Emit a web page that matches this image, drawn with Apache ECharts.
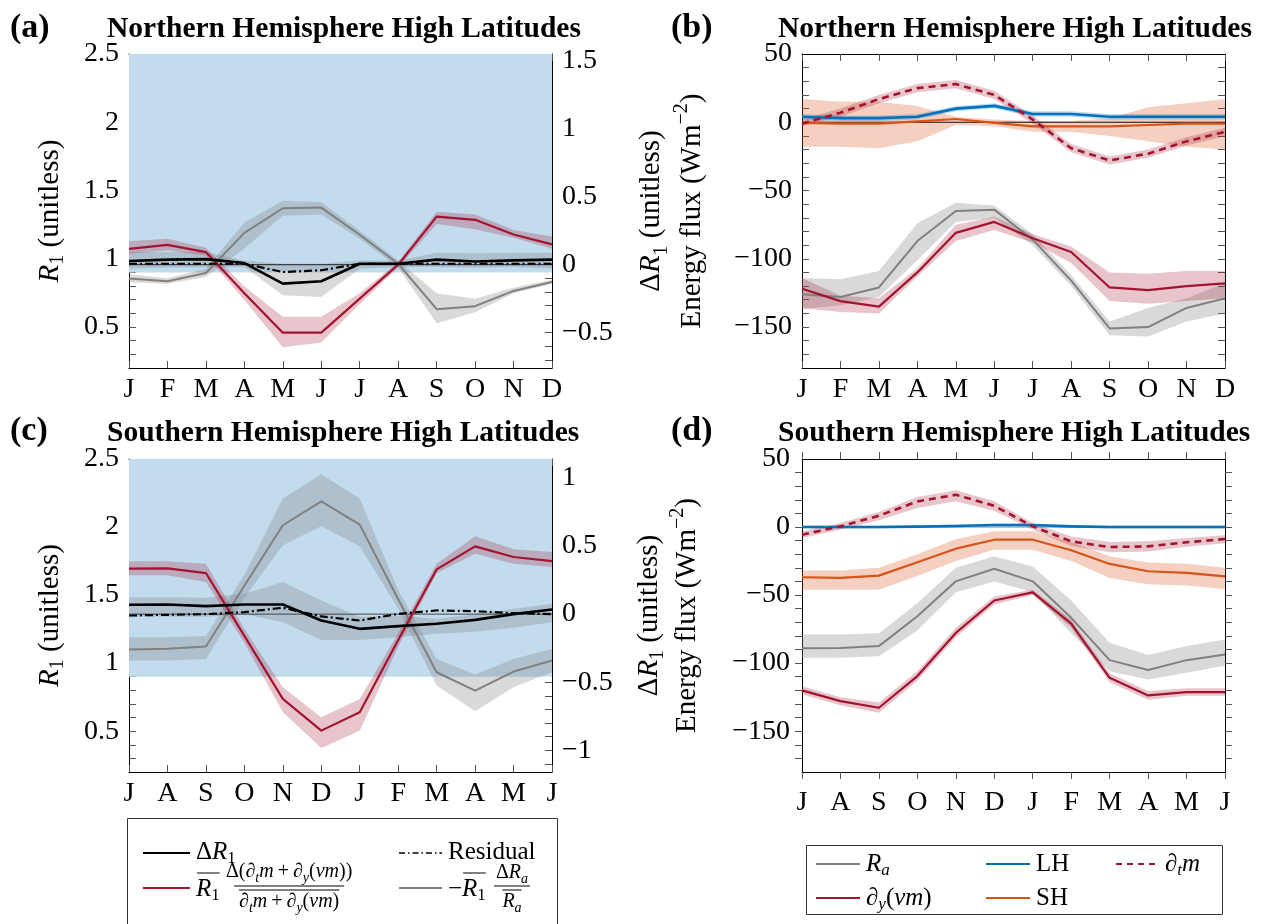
<!DOCTYPE html>
<html>
<head>
<meta charset="utf-8">
<script src="https://cdn.jsdelivr.net/npm/echarts@6/dist/echarts.min.js"></script>
<style>
html, body { margin: 0; padding: 0; background: #fff; }
#chart { width: 1262px; height: 924px; }
</style>
</head>
<body>
<div id="chart"></div>
<script>
// ---------- categories ----------
const monthsNH = ['J', 'F', 'M', 'A', 'M', 'J', 'J', 'A', 'S', 'O', 'N', 'D'];
const monthsSH = ['J', 'A', 'S', 'O', 'N', 'D', 'J', 'F', 'M', 'A', 'M', 'J'];

// ---------- tick values ----------
const r1Labels = [0.5, 1, 1.5, 2, 2.5];
const r1Ticks = [0.3, 0.4, 0.5, 0.6, 0.7, 0.8, 0.9, 1, 1.1, 1.2, 1.3, 1.4, 1.5, 1.6, 1.7, 1.8, 1.9, 2, 2.1, 2.2, 2.3, 2.4];
const dR1LabelsNH = [-0.5, 0, 0.5, 1, 1.5];
const dR1TicksNH = [-0.7, -0.6, -0.5, -0.4, -0.3, -0.2, -0.1, 0, 0.1, 0.2, 0.3, 0.4, 0.5, 0.6, 0.7, 0.8, 0.9, 1, 1.1, 1.2, 1.3, 1.4, 1.5];
const dR1LabelsSH = [-1, -0.5, 0, 0.5, 1];
const dR1TicksSH = [-1.1, -1, -0.9, -0.8, -0.7, -0.6, -0.5, -0.4, -0.3, -0.2, -0.1, 0, 0.1, 0.2, 0.3, 0.4, 0.5, 0.6, 0.7, 0.8, 0.9, 1, 1.1];
const fluxLabels = [-150, -100, -50, 0, 50];
const fluxTicks = [-170, -160, -150, -140, -130, -120, -110, -100, -90, -80, -70, -60, -50, -40, -30, -20, -10, 0, 10, 20, 30, 40];

// R1 range shaded as the energy-balance regime
const regimeR1 = [0.9, 2.5];

// ---------- (a) NH decomposition of Delta R1 ----------
const aDeltaR1   = [0.027, 0.037, 0.041, 0.012, -0.139, -0.122, 0.007, 0.007, 0.037, 0.024, 0.032, 0.037];
const aDeltaR1Lo = [-0.03, -0.02, -0.02, -0.017, -0.224, -0.237, -0.03, -0.017, -0.017, -0.02, -0.017, -0.03];
const aDeltaR1Hi = [0.093, 0.093, 0.093, 0.03, 0.007, 0.007, 0.03, 0.03, 0.088, 0.085, 0.088, 0.088];
const aResidual  = [0.007, 0.007, 0.007, 0.007, -0.054, -0.041, 0.007, 0.007, 0.007, 0.007, 0.007, 0.007];
const aFlux      = [0.117, 0.146, 0.093, -0.21, -0.5, -0.5, -0.25, 0.0, 0.354, 0.33, 0.222, 0.149];
const aFluxLo    = [0.08, 0.105, 0.068, -0.26, -0.607, -0.573, -0.29, -0.02, 0.30, 0.26, 0.198, 0.117];
const aFluxHi    = [0.173, 0.19, 0.124, -0.16, -0.383, -0.383, -0.21, 0.02, 0.39, 0.37, 0.256, 0.207];
const aRa        = [-0.102, -0.122, -0.061, 0.234, 0.415, 0.42, 0.22, 0.007, -0.327, -0.305, -0.193, -0.127];
const aRaLo      = [-0.13, -0.14, -0.09, 0.12, 0.36, 0.37, 0.19, -0.02, -0.43, -0.35, -0.21, -0.14];
const aRaHi      = [-0.07, -0.10, -0.03, 0.31, 0.47, 0.46, 0.25, 0.03, -0.21, -0.25, -0.17, -0.11];

// ---------- (b) NH energy fluxes (W m-2) ----------
const bRa    = [-126, -128, -121, -87, -65, -64, -86, -116, -151, -150, -136, -129];
const bRaLo  = [-137, -134, -128, -101, -73, -70, -90, -120, -156, -157, -146, -140];
const bRaHi  = [-114, -115, -109, -74, -59, -61, -82, -112, -146, -136, -129, -118];
const bDy    = [-122, -131, -135, -110, -81, -73, -85, -95, -121, -123, -120, -118];
const bDyLo  = [-136, -139, -140, -113, -87, -79, -88, -103, -131, -133, -131, -129];
const bDyHi  = [-114, -127, -129, -107, -75, -69, -82, -91, -110, -111, -109, -109];
const bDtm   = [-1, 7, 17, 25, 28, 20, 2, -19, -28, -23, -14, -7];
const bDtmLo = [-3, 4, 14, 22, 25, 17, -1, -22, -31, -26, -17, -10];
const bDtmHi = [2, 10, 20, 28, 31, 23, 5, -16, -25, -20, -11, -4];
const bLH    = [4, 3, 3, 4, 10, 12, 6, 6, 4, 4, 4, 4];
const bLHLo  = [2, 1, 1, 2, 8, 10, 4, 4, 2, 2, 2, 2];
const bLHHi  = [6, 5, 5, 6, 12, 14, 8, 8, 6, 6, 6, 6];
const bSH    = [-0.5, -1, -1, 0.7, 2.4, -0.5, -3, -3, -3, -2, -1, -1];
const bSHLo  = [-18, -18, -19, -14, -2, -3, -7, -7, -10, -14, -18, -20];
const bSHHi  = [17, 15, 15, 12, 4, 2, 1, 1, 3, 11, 14, 17];

// ---------- (c) SH decomposition of Delta R1 ----------
const cDeltaR1   = [0.069, 0.071, 0.059, 0.071, 0.071, -0.047, -0.108, -0.088, -0.071, -0.042, 0.0, 0.034];
const cDeltaR1Lo = [-0.02, -0.02, -0.02, 0.0, -0.06, -0.19, -0.19, -0.17, -0.145, -0.13, -0.1, -0.06];
const cDeltaR1Hi = [0.125, 0.125, 0.12, 0.15, 0.236, 0.1, -0.02, -0.01, -0.034, 0.0, 0.04, 0.076];
const cResidual  = [-0.01, -0.005, 0.0, 0.015, 0.047, -0.017, -0.047, 0.002, 0.027, 0.022, 0.007, 0.0];
const cFlux      = [0.334, 0.336, 0.302, -0.16, -0.623, -0.856, -0.721, -0.19, 0.329, 0.498, 0.42, 0.39];
const cFluxLo    = [0.285, 0.285, 0.236, -0.21, -0.72, -0.984, -0.856, -0.24, 0.30, 0.444, 0.37, 0.346];
const cFluxHi    = [0.388, 0.388, 0.37, -0.11, -0.537, -0.758, -0.623, -0.14, 0.37, 0.572, 0.476, 0.456];
const cRa        = [-0.26, -0.255, -0.238, 0.208, 0.653, 0.829, 0.658, 0.11, -0.427, -0.562, -0.422, -0.341];
const cRaLo      = [-0.34, -0.34, -0.33, 0.12, 0.506, 0.645, 0.498, 0.04, -0.525, -0.714, -0.537, -0.427];
const cRaHi      = [-0.17, -0.17, -0.16, 0.29, 0.85, 1.028, 0.85, 0.18, -0.33, -0.444, -0.33, -0.255];

// ---------- (d) SH energy fluxes (W m-2) ----------
const dRa    = [-89, -88.8, -87.5, -65.5, -39.9, -30.6, -39.9, -66.7, -97.8, -105, -97.8, -93.6];
const dRaLo  = [-96, -96, -95, -76, -48, -40, -48, -78, -106, -112, -107, -102];
const dRaHi  = [-79, -79, -78, -56, -30, -21.5, -29, -54, -85, -94, -87.5, -82.6];
const dDy    = [-120, -127.9, -132.8, -109.5, -77.8, -54, -48, -71, -110.8, -123.7, -121.3, -121.3];
const dDyLo  = [-123, -131, -136.5, -113, -81, -57, -50, -74, -114, -127, -124, -124];
const dDyHi  = [-117, -125, -129, -106, -74, -51, -46, -68, -107.5, -120.5, -118.5, -118.5];
const dDtm   = [-5.6, 0.5, 8.3, 18.8, 23.7, 15.6, 0.5, -10.5, -14.7, -14.2, -11.2, -8.8];
const dDtmLo = [-8, -2, 5, 14, 19, 12, -2, -14, -18.5, -18, -14.5, -12];
const dDtmHi = [-3, 3, 11, 22, 27, 19, 3, -7, -11, -10.5, -8, -6];
const dLH    = [0, 0, 0, 0.3, 0.8, 1.5, 1.5, 0.5, 0, 0, 0, 0];
const dLHLo  = [-1, -1, -1, -0.7, -0.2, 0.5, 0.5, -0.5, -1, -1, -1, -1];
const dLHHi  = [1, 1, 1, 1.3, 1.8, 2.5, 2.5, 1.5, 1, 1, 1, 1];
const dSH    = [-36.9, -37.4, -35.7, -25.9, -15.9, -9.3, -9.3, -17.1, -27.1, -32.5, -33.7, -36.2];
const dSHLo  = [-46, -46, -46, -36, -25, -16.6, -16.6, -25, -37.4, -42, -43, -45.5];
const dSHHi  = [-32, -32, -30, -20, -9, -3, -3, -11, -21.5, -26, -27, -30];

// ---------- styling ----------
const FONT = '"Liberation Serif", "Times New Roman", Times, serif';
const RED = '#A2142F', BLUE = '#0072BD', ORANGE = '#D95319', GRAY = '#808080', BLACK = '#000000';
const RED_BAND = 'rgba(162,20,47,0.25)';
const GRAY_BAND = 'rgba(128,128,128,0.3)';
const BLUE_BAND = 'rgba(0,114,189,0.25)';
const ORANGE_BAND = 'rgba(217,83,25,0.27)';
const REGIME_FILL = '#c2dcee';
const TICK_FS = 28;
const NAME_FS = 29;
const TITLE_FS = 29.5;

function fmtNum(v) {
  const s = String(Math.abs(v));
  return v < 0 ? '\u2212' + s : s;
}

function richStyles(size, lineH) {
  const sub = Math.round(size * 0.68);
  const lh = lineH || size + 6;
  return {
    n:  { fontFamily: FONT, fontSize: size, lineHeight: lh, color: '#000', fill: '#000' },
    i:  { fontFamily: FONT, fontSize: size, fontStyle: 'italic', lineHeight: lh, color: '#000', fill: '#000' },
    s:  { fontFamily: FONT, fontSize: sub, lineHeight: lh / 2 + sub / 2 + 1, verticalAlign: 'bottom', color: '#000', fill: '#000' },
    si: { fontFamily: FONT, fontSize: sub, fontStyle: 'italic', lineHeight: lh / 2 + sub / 2 + 1, verticalAlign: 'bottom', color: '#000', fill: '#000' },
    p:  { fontFamily: FONT, fontSize: sub, lineHeight: lh / 2 + sub / 2 + 1, verticalAlign: 'top', color: '#000', fill: '#000' }
  };
}

const grids = [
  { left: 129, top: 54, width: 423, height: 314 },
  { left: 802, top: 54, width: 423, height: 314 },
  { left: 129, top: 459, width: 423, height: 313 },
  { left: 802, top: 459, width: 423, height: 313 }
];

function xAxes(g, labels, inside) {
  const base = {
    type: 'value', gridIndex: g, min: 0, max: 11, interval: 1,
    axisLine: { show: true, onZero: false, lineStyle: { color: '#000', width: 1 } },
    axisTick: { show: true, inside: inside, length: 7, lineStyle: { color: '#555', width: 1 } },
    splitLine: { show: false }
  };
  return [
    Object.assign({}, base, {
      position: 'bottom',
      axisLabel: {
        show: true, margin: inside ? 8 : 17, fontFamily: FONT, fontSize: TICK_FS, color: '#000',
        formatter: v => labels[Math.round(v)]
      }
    }),
    Object.assign({}, base, { position: 'top', axisLabel: { show: false } })
  ];
}

function yAxis(g, pos, min, max, ticks, labels, inside, showLabels, name, nameGap, nameLH) {
  const ax = {
    type: 'value', gridIndex: g, position: pos, min: min, max: max,
    axisLine: { show: true, onZero: false, lineStyle: { color: '#000', width: 1 } },
    axisTick: { show: true, inside: inside, length: 7, customValues: ticks, lineStyle: { color: '#555', width: 1 } },
    axisLabel: {
      show: showLabels, customValues: labels, margin: inside ? 10 : 12,
      fontFamily: FONT, fontSize: TICK_FS, color: '#000', formatter: fmtNum
    },
    splitLine: { show: false }
  };
  if (name) {
    ax.name = name;
    ax.nameLocation = 'middle';
    ax.nameRotate = 90;
    ax.nameGap = nameGap;
    ax.nameTextStyle = { fontFamily: FONT, fontSize: NAME_FS, color: '#000', rich: richStyles(NAME_FS, nameLH) };
  }
  return ax;
}

function band(xi, yi, lo, hi, color) {
  const data = lo.map((l, i) => [i, l, hi[i]]);
  return {
    type: 'custom', xAxisIndex: xi, yAxisIndex: yi, data: data, silent: true, animation: false, z: 2,
    encode: { x: 0, y: [1, 2] },
    renderItem: function (params, api) {
      if (params.dataIndex !== 0) return null;
      const upper = data.map(d => api.coord([d[0], d[2]]));
      const lower = data.map(d => api.coord([d[0], d[1]])).reverse();
      return { type: 'polygon', shape: { points: upper.concat(lower) }, style: { fill: color } };
    }
  };
}

function regime(xi, yi, n) {
  const data = [[0, regimeR1[0], regimeR1[1]], [n - 1, regimeR1[0], regimeR1[1]]];
  return {
    type: 'custom', xAxisIndex: xi, yAxisIndex: yi, data: data, silent: true, animation: false, z: 1,
    encode: { x: 0, y: [1, 2] },
    renderItem: function (params, api) {
      if (params.dataIndex !== 0) return null;
      const p0 = api.coord([data[0][0], data[0][2]]);
      const p1 = api.coord([data[1][0], data[1][1]]);
      return { type: 'rect', shape: { x: p0[0], y: p0[1], width: p1[0] - p0[0], height: p1[1] - p0[1] }, style: { fill: REGIME_FILL } };
    }
  };
}

function zeroLine(xi, yi, color) {
  const data = [[0, 0], [11, 0]];
  return {
    type: 'custom', xAxisIndex: xi, yAxisIndex: yi, data: data, silent: true, animation: false, z: 2,
    renderItem: function (params, api) {
      if (params.dataIndex !== 0) return null;
      const a = api.coord(data[0]), b = api.coord(data[1]);
      return { type: 'line', shape: { x1: a[0], y1: a[1], x2: b[0], y2: b[1] }, style: { stroke: color, lineWidth: 1 } };
    }
  };
}

function line(xi, yi, vals, color, width, dash) {
  return {
    type: 'line', xAxisIndex: xi, yAxisIndex: yi, data: vals.map((v, i) => [i, v]),
    symbol: 'none', showSymbol: false, silent: true, animation: false, z: 3,
    lineStyle: { color: color, width: width, type: dash || 'solid', cap: 'butt', join: 'round' }
  };
}

const r1Name = '{i|R}{s|1}{n| (unitless)}';
const fluxName = '{n|\u0394}{i|R}{s|1}{n| (unitless)}\n{n|Energy flux (Wm}{p|\u22122}{n|)}';

const xAxisList = [].concat(
  xAxes(0, monthsNH, true), xAxes(1, monthsNH, true),
  xAxes(2, monthsSH, true), xAxes(3, monthsSH, false)
);

const yAxisList = [
  yAxis(0, 'left', 0.2, 2.5, r1Ticks, r1Labels, true, true, r1Name, 61),
  yAxis(0, 'right', -0.76, 1.55, dR1TicksNH, dR1LabelsNH, true, true),
  yAxis(1, 'left', -180, 50, fluxTicks, fluxLabels, true, true, fluxName, 89, 41),
  yAxis(1, 'right', -180, 50, fluxTicks, fluxLabels, true, false),
  yAxis(2, 'left', 0.2, 2.5, r1Ticks, r1Labels, true, true, r1Name, 61),
  yAxis(2, 'right', -1.16, 1.14, dR1TicksSH, dR1LabelsSH, true, true),
  yAxis(3, 'left', -180, 50, fluxTicks, fluxLabels, false, true, fluxName, 96, 38),
  yAxis(3, 'right', -180, 50, fluxTicks, fluxLabels, false, false)
];

const DASHDOT = [8, 3, 2, 3];
const DASH = [7, 5];

const series = [
  // (a)
  regime(0, 0, monthsNH.length),
  band(0, 1, aDeltaR1Lo, aDeltaR1Hi, GRAY_BAND),
  band(0, 1, aRaLo, aRaHi, GRAY_BAND),
  band(0, 1, aFluxLo, aFluxHi, RED_BAND),
  zeroLine(0, 1, '#222'),
  line(0, 1, aRa, GRAY, 2),
  line(0, 1, aFlux, RED, 2.2),
  line(0, 1, aResidual, BLACK, 2.2, DASHDOT),
  line(0, 1, aDeltaR1, BLACK, 2.6),
  // (b)
  band(2, 2, bSHLo, bSHHi, ORANGE_BAND),
  band(2, 2, bLHLo, bLHHi, BLUE_BAND),
  band(2, 2, bRaLo, bRaHi, GRAY_BAND),
  band(2, 2, bDyLo, bDyHi, RED_BAND),
  band(2, 2, bDtmLo, bDtmHi, RED_BAND),
  zeroLine(2, 2, '#111'),
  line(2, 2, bRa, GRAY, 2),
  line(2, 2, bDy, RED, 2.2),
  line(2, 2, bSH, ORANGE, 2.2),
  line(2, 2, bLH, BLUE, 2.6),
  line(2, 2, bDtm, RED, 2.6, DASH),
  // (c)
  regime(4, 4, monthsSH.length),
  band(4, 5, cDeltaR1Lo, cDeltaR1Hi, GRAY_BAND),
  band(4, 5, cRaLo, cRaHi, GRAY_BAND),
  band(4, 5, cFluxLo, cFluxHi, RED_BAND),
  zeroLine(4, 5, '#444'),
  line(4, 5, cRa, GRAY, 2),
  line(4, 5, cFlux, RED, 2.2),
  line(4, 5, cResidual, BLACK, 2.2, DASHDOT),
  line(4, 5, cDeltaR1, BLACK, 2.6),
  // (d)
  band(6, 6, dSHLo, dSHHi, ORANGE_BAND),
  band(6, 6, dLHLo, dLHHi, BLUE_BAND),
  band(6, 6, dRaLo, dRaHi, GRAY_BAND),
  band(6, 6, dDyLo, dDyHi, RED_BAND),
  band(6, 6, dDtmLo, dDtmHi, RED_BAND),
  zeroLine(6, 6, '#888'),
  line(6, 6, dRa, GRAY, 2),
  line(6, 6, dDy, RED, 2.2),
  line(6, 6, dSH, ORANGE, 2.2),
  line(6, 6, dLH, BLUE, 2.6),
  line(6, 6, dDtm, RED, 2.6, DASH)
];

// ---------- text measurement for overlines ----------
const measureCtx = document.createElement('canvas').getContext('2d');
function textWidth(str, size, italic) {
  measureCtx.font = (italic ? 'italic ' : '') + size + 'px ' + FONT;
  return measureCtx.measureText(str).width;
}

function mtext(x, y, text, size, align) {
  return {
    type: 'text', x: x, y: y, silent: true, z: 100,
    style: { text: text, align: align || 'left', verticalAlign: 'middle', fill: '#000', fontFamily: FONT, fontSize: size, rich: richStyles(size) }
  };
}
function seg(x1, y1, x2, y2, color, width, dash) {
  return {
    type: 'line', silent: true, z: 100,
    shape: { x1: x1, y1: y1, x2: x2, y2: y2 },
    style: { stroke: color, lineWidth: width, lineDash: dash || null }
  };
}
function btext(x, y, text, size) {
  return {
    type: 'text', x: x, y: y, silent: true, z: 100,
    style: { text: text, align: 'left', verticalAlign: 'middle', fill: '#000', fontFamily: FONT, fontSize: size, fontWeight: 'bold' }
  };
}

const LFS = 25;   // legend font size
const FFS = 20;   // fraction font size
const TS = '\u2009'; // thin space around the plus sign
const subLFS = Math.round(LFS * 0.68);
const subFFS = Math.round(FFS * 0.68);
const wR1 = textWidth('R', LFS, true) + textWidth('1', subLFS, false);
const wMinus = textWidth('\u2212', LFS, false);
const wRaSmall = textWidth('R', FFS, true) + textWidth('a', subFFS, true);
const wDenom = textWidth('\u2202', FFS) + textWidth('t', subFFS, true) + textWidth('m', FFS, true) +
  textWidth(TS + '+' + TS + '\u2202', FFS) + textWidth('y', subFFS, true) + textWidth('(', FFS) + textWidth('vm', FFS, true) + textWidth(')', FFS);
const fracCx = 236 + wDenom / 2 + 3;

const graphics = [
  // panel letters and titles
  btext(10, 28, '(a)', 34), btext(107, 29, 'Northern Hemisphere High Latitudes', TITLE_FS),
  btext(671, 28, '(b)', 34), btext(778, 29, 'Northern Hemisphere High Latitudes', TITLE_FS),
  btext(10, 431, '(c)', 34), btext(107, 433, 'Southern Hemisphere High Latitudes', TITLE_FS),
  btext(671, 431, '(d)', 34), btext(778, 433, 'Southern Hemisphere High Latitudes', TITLE_FS),

  // left legend box
  { type: 'rect', silent: true, z: 99, shape: { x: 127.5, y: 818.5, width: 430, height: 140 }, style: { fill: '#fff', stroke: '#333', lineWidth: 1 } },
  seg(143, 853, 190, 853, BLACK, 2),
  mtext(196, 852, '{n|\u0394}{i|R}{s|1}', LFS),
  seg(399, 853, 442, 853, BLACK, 1.6, [6, 3, 1.5, 3]),
  mtext(448, 852, '{n|Residual}', LFS),
  seg(143, 888, 190, 888, RED, 2),
  mtext(196, 889, '{i|R}{s|1}', LFS),
  seg(197, 873, 196 + wR1, 873, BLACK, 1),
  mtext(fracCx, 872, '{n|\u0394(\u2202}{si|t}{i|m}{n|' + TS + '+' + TS + '\u2202}{si|y}{n|(}{i|vm}{n|))}', FFS, 'center'),
  seg(234, 886, fracCx + (fracCx - 234), 886, BLACK, 1),
  seg(fracCx - wDenom / 2, 890, fracCx + wDenom / 2, 890, BLACK, 1),
  mtext(fracCx, 902, '{n|\u2202}{si|t}{i|m}{n|' + TS + '+' + TS + '\u2202}{si|y}{n|(}{i|vm}{n|)}', FFS, 'center'),
  seg(399, 888, 442, 888, GRAY, 2),
  mtext(448, 889, '{n|\u2212}{i|R}{s|1}', LFS),
  seg(449 + wMinus, 873, 448 + wMinus + wR1, 873, BLACK, 1),
  mtext(512, 873, '{n|\u0394}{i|R}{si|a}', FFS, 'center'),
  seg(494, 886, 530, 886, BLACK, 1),
  seg(512 - wRaSmall / 2, 890, 512 + wRaSmall / 2, 890, BLACK, 1),
  mtext(512, 902, '{i|R}{si|a}', FFS, 'center'),

  // right legend box
  { type: 'rect', silent: true, z: 99, shape: { x: 806.5, y: 845.5, width: 416, height: 69 }, style: { fill: '#fff', stroke: '#333', lineWidth: 1 } },
  seg(816, 864, 860, 864, GRAY, 2),
  mtext(866, 864, '{i|R}{si|a}', LFS),
  seg(986, 864, 1030, 864, BLUE, 2),
  mtext(1036, 864, '{n|LH}', LFS),
  seg(1116, 864, 1158, 864, RED, 2, [6, 5]),
  mtext(1165, 864, '{n|\u2202}{si|t}{i|m}', LFS),
  seg(816, 898, 860, 898, RED, 2),
  mtext(866, 898, '{n|\u2202}{si|y}{n|(}{i|vm}{n|)}', LFS),
  seg(986, 898, 1030, 898, ORANGE, 2),
  mtext(1036, 898, '{n|SH}', LFS)
];

const chart = echarts.init(document.getElementById('chart'), null, { renderer: 'canvas', width: 1262, height: 924 });
chart.setOption({
  backgroundColor: '#ffffff',
  animation: false,
  grid: grids,
  xAxis: xAxisList,
  yAxis: yAxisList,
  series: series,
  graphic: graphics
});
</script>
</body>
</html>
